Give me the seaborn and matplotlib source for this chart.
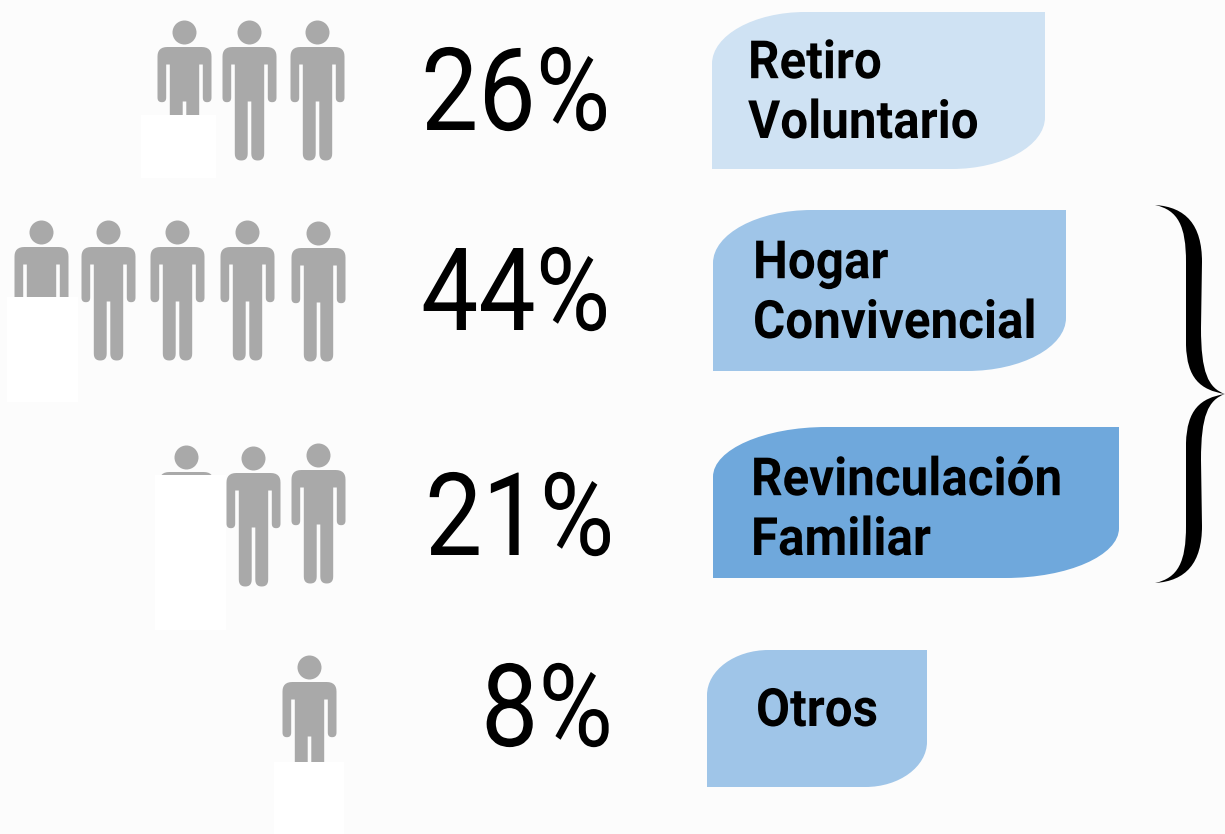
import numpy as np
import pandas as pd
import matplotlib
matplotlib.use('Agg')
import matplotlib.pyplot as plt
import seaborn as sns
from matplotlib.path import Path
from matplotlib.patches import PathPatch, Rectangle
from matplotlib.patheffects import AbstractPathEffect
from matplotlib.transforms import Affine2D

# data
categories = ['Retiro\nVoluntario', 'Hogar\nConvivencial', 'Revinculación\nFamiliar', 'Otros']
percentages = [26, 44, 21, 8]

# layout, in pixels of the picture
icon_x = [[184, 249, 317], [41, 108, 177, 247, 318], [186, 253, 318], [309]]
icon_mid = [[90, 90, 90], [290, 290, 290, 290, 291], [515, 516, 513], [725]]
cover_boxes = [(141, 115, 75, 63), (7, 297, 71, 105), (155, 475, 71, 155), (274, 762, 70, 72)]
label_boxes = [(712, 12, 333, 157), (713, 210, 353, 161), (713, 427, 406, 151), (707, 650, 220, 137)]
box_colors = ['#cfe2f3', '#9fc5e8', '#6fa8dc', '#9fc5e8']
pct_left = [421, 421, 425, 481]
pct_base = [130, 330, 555, 746]
label_left = [748, 753, 751, 756]
label_base = [138, 338, 555, 726]

sns.set_theme(style='white')
plt.rcParams['font.family'] = ['Roboto', 'DejaVu Sans']

fig, ax = plt.subplots(figsize=(12.25, 8.34), dpi=100)
fig.patch.set_facecolor('#fcfcfc')
ax.set_facecolor('#fcfcfc')
ax.set_position([0, 0, 1, 1])


class Narrow(AbstractPathEffect):
    # no condensed Roboto here, so squeeze the glyphs sideways
    def __init__(self, sx):
        super().__init__()
        self.sx = sx

    def draw_path(self, renderer, gc, tpath, affine, rgbFace=None):
        renderer.draw_path(gc, tpath, Affine2D().scale(self.sx, 1) + affine, rgbFace)


def quad(p0, c, p1, n=8):
    t = np.linspace(0, 1, n)[1:, None]
    p0, c, p1 = np.array(p0), np.array(c), np.array(p1)
    return list((1 - t) ** 2 * p0 + 2 * t * (1 - t) * c + t ** 2 * p1)


def person_marker():
    # right half of the body, x from the middle and d down from the top of the head
    pts = [np.array([0, 26.5]), np.array([17, 26.5])]
    pts += quad((17, 26.5), (27, 26.5), (27, 36))
    pts += [np.array([27, 77])]
    pts += quad((27, 77), (27, 81.7), (22.6, 81.7))
    pts += quad((22.6, 81.7), (18.3, 81.7), (18.3, 77))
    pts += [np.array([18.3, 44]), np.array([14.7, 44]), np.array([14.7, 133])]
    pts += quad((14.7, 133), (14.7, 140), (8.2, 140))
    pts += quad((8.2, 140), (1.8, 140), (1.8, 133))
    pts += [np.array([1.8, 81]), np.array([0, 81])]
    right = np.array(pts)
    left = right[::-1] * np.array([-1, 1])
    body = np.vstack([right, left])
    verts = np.column_stack([body[:, 0], 70 - body[:, 1]])
    head = Path.circle((0, 58), 12)
    return Path.make_compound_path(head, Path(np.vstack([verts, verts[0]]), closed=True))


def label_path(x, y, w, h):
    # big rounded corners only at top left and bottom right
    rx, ry = 0.28 * w, 0.33 * h
    k = 0.55
    v = [(x, y + h), (x, y + ry),
         (x, y + ry - k * ry), (x + rx - k * rx, y), (x + rx, y),
         (x + w, y), (x + w, y + h - ry),
         (x + w, y + h - ry + k * ry), (x + w - rx + k * rx, y + h), (x + w - rx, y + h),
         (x, y + h)]
    c = [Path.MOVETO, Path.LINETO,
         Path.CURVE4, Path.CURVE4, Path.CURVE4,
         Path.LINETO, Path.LINETO,
         Path.CURVE4, Path.CURVE4, Path.CURVE4,
         Path.CLOSEPOLY]
    return Path(v, c)


def brace_half(flip):
    m = 394
    v = [(1155, 205),
         (1186, 207), (1202, 225), (1202, 262),
         (1201, 328),
         (1201, 372), (1208, 388), (1225, 394),
         (1200, 390), (1187, 378), (1186, 345),
         (1186, 262),
         (1186, 226), (1178, 210), (1155, 205)]
    c = [Path.MOVETO] + [Path.CURVE4] * 3 + [Path.LINETO] + [Path.CURVE4] * 6 + [Path.LINETO] + [Path.CURVE4] * 3
    v = np.array(v, dtype=float)
    if flip:
        v[:, 1] = 2 * m - v[:, 1]
    return Path(v, c)


icons = pd.DataFrame({
    'x': [x for row in icon_x for x in row],
    'y': [y for row in icon_mid for y in row],
})
sns.scatterplot(data=icons, x='x', y='y', marker=person_marker(), s=(140 * 0.72) ** 2,
                color='#a9a9a9', linewidth=0, legend=False, ax=ax, zorder=2)

for (x, y, w, h) in cover_boxes:
    ax.add_patch(Rectangle((x, y), w, h, facecolor='white', edgecolor='none', zorder=3))

for box, col in zip(label_boxes, box_colors):
    ax.add_patch(PathPatch(label_path(*box), facecolor=col, edgecolor='none', zorder=1))

for i, name in enumerate(categories):
    ax.text(pct_left[i], pct_base[i], f'{percentages[i]}%', ha='left', va='baseline',
            fontsize=83, color='black', zorder=4, path_effects=[Narrow(0.885)])
    ax.text(label_left[i], label_base[i], name, ha='left', va='baseline', fontsize=38,
            fontweight='bold', color='black', linespacing=1.22, zorder=4,
            path_effects=[Narrow(0.935)])

ax.add_patch(PathPatch(brace_half(False), facecolor='black', edgecolor='none', zorder=4))
ax.add_patch(PathPatch(brace_half(True), facecolor='black', edgecolor='none', zorder=4))

ax.set_xlim(0, 1225)
ax.set_ylim(834, 0)
ax.axis('off')

fig.savefig('out.png', dpi=100, facecolor=fig.get_facecolor())
